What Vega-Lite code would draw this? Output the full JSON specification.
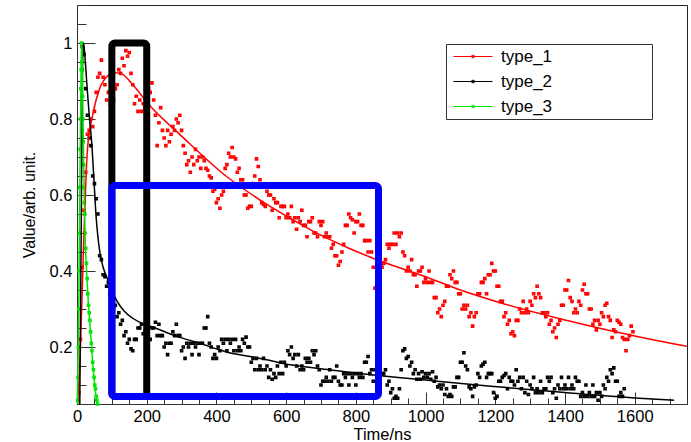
{
"$schema":"https://vega.github.io/schema/vega-lite/v6.json",
"width":610,"height":399,
"autosize":{"type":"none"},
"padding":{"left":77,"top":5,"right":4,"bottom":38},
"background":"white",
"config":{"view":{"stroke":"#222","strokeWidth":1},"font":"Liberation Sans"},
"datasets":{
"pts":[
{"x":5,"type_1":0.08},{"x":10,"type_1":0.22},
{"x":15,"type_1":0.41,"type_2":0.99},{"x":20,"type_1":0.56,"type_2":0.97},{"x":25,"type_1":0.66,"type_2":0.88},{"x":30,"type_1":0.76,"type_2":0.81},{"x":35,"type_1":0.77,"type_2":0.75},{"x":40,"type_1":0.80,"type_2":0.73},{"x":45,"type_1":0.78,"type_2":0.65},{"x":50,"type_1":0.82,"type_2":0.63},{"x":55,"type_1":0.87,"type_2":0.59},{"x":60,"type_1":0.91,"type_2":0.55},{"x":65,"type_1":0.92,"type_2":0.44},{"x":70,"type_1":0.955,"type_2":0.43},{"x":75,"type_1":0.91,"type_2":0.39},{"x":80,"type_1":0.89,"type_2":0.385},{"x":85,"type_1":0.85,"type_2":0.36},{"x":90,"type_1":0.87,"type_2":0.37},{"x":95,"type_1":0.84,"type_2":0.34},{"x":100,"type_1":0.88,"type_2":0.335},
{"x":105,"type_1":0.85,"type_2":0.30},{"x":110,"type_1":0.88,"type_2":0.31},{"x":115,"type_1":0.89,"type_2":0.28},{"x":120,"type_1":0.93,"type_2":0.29},{"x":125,"type_1":0.92,"type_2":0.26},{"x":130,"type_1":0.96,"type_2":0.27},{"x":135,"type_1":0.94,"type_2":0.23},{"x":140,"type_1":0.98,"type_2":0.24},{"x":145,"type_1":0.965,"type_2":0.21},{"x":150,"type_1":0.975,"type_2":0.22},{"x":155,"type_1":0.92,"type_2":0.195},{"x":160,"type_1":0.89,"type_2":0.19},{"x":165,"type_1":0.84,"type_2":0.22},{"x":170,"type_1":0.86,"type_2":0.22},{"x":175,"type_1":0.82,"type_2":0.25},{"x":180,"type_1":0.85,"type_2":0.25},{"x":185,"type_1":0.82,"type_2":0.26},{"x":190,"type_1":0.84,"type_2":0.235},{"x":195,"type_1":0.83,"type_2":0.24},{"x":200,"type_1":0.86,"type_2":0.21},
{"x":205,"type_1":0.88,"type_2":0.22},{"x":210,"type_1":0.87,"type_2":0.22},{"x":215,"type_1":0.895,"type_2":0.25},{"x":220,"type_1":0.85,"type_2":0.25},{"x":225,"type_1":0.81,"type_2":0.265},{"x":230,"type_1":0.73,"type_2":0.23},{"x":235,"type_1":0.79,"type_2":0.26},{"x":240,"type_1":0.83,"type_2":0.23},{"x":245,"type_1":0.77,"type_2":0.23},{"x":250,"type_1":0.75,"type_2":0.20},{"x":255,"type_1":0.73,"type_2":0.21},{"x":260,"type_1":0.77,"type_2":0.18},{"x":265,"type_1":0.74,"type_2":0.21},{"x":270,"type_1":0.76,"type_2":0.21},{"x":275,"type_1":0.78,"type_2":0.24},{"x":280,"type_1":0.77,"type_2":0.23},{"x":285,"type_1":0.80,"type_2":0.26},{"x":290,"type_1":0.79,"type_2":0.23},{"x":295,"type_1":0.81,"type_2":0.23},{"x":300,"type_1":0.77,"type_2":0.19},
{"x":305,"type_1":0.73,"type_2":0.20},{"x":310,"type_1":0.71,"type_2":0.17},{"x":315,"type_1":0.68,"type_2":0.21},{"x":320,"type_1":0.69,"type_2":0.20},{"x":325,"type_1":0.66,"type_2":0.21},{"x":330,"type_1":0.70,"type_2":0.18},{"x":335,"type_1":0.68,"type_2":0.21},{"x":340,"type_1":0.72,"type_2":0.20},{"x":345,"type_1":0.69,"type_2":0.21},{"x":350,"type_1":0.70,"type_2":0.18},{"x":355,"type_1":0.67,"type_2":0.21},{"x":360,"type_1":0.70,"type_2":0.21},{"x":365,"type_1":0.69,"type_2":0.25},{"x":370,"type_1":0.67,"type_2":0.25},{"x":375,"type_1":0.665,"type_2":0.28},{"x":380,"type_1":0.65,"type_2":0.21},{"x":385,"type_1":0.645,"type_2":0.20},{"x":390,"type_1":0.61,"type_2":0.17},{"x":395,"type_1":0.615,"type_2":0.18},{"x":400,"type_1":0.58,"type_2":0.17},
{"x":405,"type_1":0.59,"type_2":0.20},{"x":410,"type_1":0.565,"type_2":0.19},{"x":415,"type_1":0.60,"type_2":0.22},{"x":420,"type_1":0.61,"type_2":0.21},{"x":425,"type_1":0.67,"type_2":0.22},{"x":430,"type_1":0.68,"type_2":0.19},{"x":435,"type_1":0.71,"type_2":0.22},{"x":440,"type_1":0.70,"type_2":0.21},{"x":445,"type_1":0.725,"type_2":0.22},{"x":450,"type_1":0.70,"type_2":0.19},{"x":455,"type_1":0.695,"type_2":0.22},{"x":460,"type_1":0.66,"type_2":0.19},{"x":465,"type_1":0.67,"type_2":0.20},{"x":470,"type_1":0.64,"type_2":0.19},{"x":475,"type_1":0.64,"type_2":0.22},{"x":480,"type_1":0.60,"type_2":0.21},{"x":485,"type_1":0.60,"type_2":0.226},{"x":490,"type_1":0.565,"type_2":0.20},{"x":495,"type_1":0.57,"type_2":0.20},{"x":500,"type_1":0.57,"type_2":0.16},
{"x":505,"type_1":0.63,"type_2":0.17},{"x":510,"type_1":0.65,"type_2":0.14},{"x":515,"type_1":0.695,"type_2":0.17},{"x":520,"type_1":0.675,"type_2":0.14},{"x":525,"type_1":0.64,"type_2":0.15},{"x":530,"type_1":0.58,"type_2":0.14},{"x":535,"type_1":0.575,"type_2":0.17},{"x":540,"type_1":0.57,"type_2":0.14},{"x":545,"type_1":0.61,"type_2":0.15},{"x":550,"type_1":0.60,"type_2":0.12},{"x":555,"type_1":0.60,"type_2":0.14},{"x":560,"type_1":0.56,"type_2":0.115},{"x":565,"type_1":0.59,"type_2":0.13},{"x":570,"type_1":0.58,"type_2":0.12},{"x":575,"type_1":0.58,"type_2":0.15},{"x":580,"type_1":0.54,"type_2":0.13},{"x":585,"type_1":0.57,"type_2":0.16},{"x":590,"type_1":0.57,"type_2":0.13},{"x":595,"type_1":0.57,"type_2":0.16},{"x":600,"type_1":0.54,"type_2":0.15},
{"x":605,"type_1":0.55,"type_2":0.19},{"x":610,"type_1":0.54,"type_2":0.18},{"x":615,"type_1":0.57,"type_2":0.20},{"x":620,"type_1":0.53,"type_2":0.17},{"x":625,"type_1":0.54,"type_2":0.18},{"x":630,"type_1":0.51,"type_2":0.15},{"x":635,"type_1":0.54,"type_2":0.18},{"x":640,"type_1":0.53,"type_2":0.14},{"x":645,"type_1":0.56,"type_2":0.15},{"x":650,"type_1":0.52,"type_2":0.14},{"x":655,"type_1":0.52,"type_2":0.17},{"x":660,"type_1":0.49,"type_2":0.16},{"x":665,"type_1":0.53,"type_2":0.17},{"x":670,"type_1":0.53,"type_2":0.16},{"x":675,"type_1":0.54,"type_2":0.19},{"x":680,"type_1":0.50,"type_2":0.18},{"x":685,"type_1":0.50,"type_2":0.19},{"x":690,"type_1":0.49,"type_2":0.15},{"x":695,"type_1":0.53,"type_2":0.14},{"x":700,"type_1":0.52,"type_2":0.10},
{"x":705,"type_1":0.53,"type_2":0.11},{"x":710,"type_1":0.49,"type_2":0.11},{"x":715,"type_1":0.50,"type_2":0.12},{"x":720,"type_1":0.49,"type_2":0.11},{"x":725,"type_1":0.49,"type_2":0.14},{"x":730,"type_1":0.46,"type_2":0.11},{"x":735,"type_1":0.47,"type_2":0.12},{"x":740,"type_1":0.44,"type_2":0.12},{"x":745,"type_1":0.44,"type_2":0.15},{"x":750,"type_1":0.415,"type_2":0.11},{"x":755,"type_1":0.425,"type_2":0.10},{"x":760,"type_1":0.45,"type_2":0.10},{"x":765,"type_1":0.47,"type_2":0.13},{"x":770,"type_1":0.52,"type_2":0.12},{"x":775,"type_1":0.52,"type_2":0.13},{"x":780,"type_1":0.55,"type_2":0.10},{"x":785,"type_1":0.54,"type_2":0.13},{"x":790,"type_1":0.535,"type_2":0.12},{"x":795,"type_1":0.50,"type_2":0.13},{"x":800,"type_1":0.53,"type_2":0.10},
{"x":805,"type_1":0.53,"type_2":0.13},{"x":810,"type_1":0.55,"type_2":0.12},{"x":815,"type_1":0.52,"type_2":0.13},{"x":820,"type_1":0.52,"type_2":0.12},{"x":825,"type_1":0.48,"type_2":0.16},{"x":830,"type_1":0.48,"type_2":0.16},{"x":835,"type_1":0.45,"type_2":0.175},{"x":840,"type_1":0.48,"type_2":0.13},{"x":845,"type_1":0.45,"type_2":0.14},{"x":850,"type_1":0.41,"type_2":0.11},{"x":855,"type_1":0.355,"type_2":0.14},{"x":860,"type_1":0.39,"type_2":0.13},{"x":865,"type_1":0.41,"type_2":0.145},{"x":870,"type_1":0.45,"type_2":0.10},{"x":875,"type_1":0.41,"type_2":0.13},{"x":880,"type_1":0.42,"type_2":0.13},{"x":885,"type_1":0.43,"type_2":0.14},{"x":890,"type_1":0.47,"type_2":0.10},{"x":895,"type_1":0.46,"type_2":0.11},{"x":900,"type_1":0.47,"type_2":0.08},
{"x":905,"type_1":0.47,"type_2":0.09},{"x":910,"type_1":0.50,"type_2":0.065},{"x":915,"type_1":0.47,"type_2":0.07},{"x":920,"type_1":0.50,"type_2":0.065},{"x":925,"type_1":0.49,"type_2":0.09},{"x":930,"type_1":0.50,"type_2":0.14},{"x":935,"type_1":0.45,"type_2":0.19},{"x":940,"type_1":0.44,"type_2":0.195},{"x":945,"type_1":0.40,"type_2":0.17},{"x":950,"type_1":0.41,"type_2":0.175},{"x":955,"type_1":0.40,"type_2":0.15},{"x":960,"type_1":0.43,"type_2":0.16},{"x":965,"type_1":0.39,"type_2":0.13},{"x":970,"type_1":0.39,"type_2":0.14},{"x":975,"type_1":0.36,"type_2":0.115},{"x":980,"type_1":0.40,"type_2":0.13},{"x":985,"type_1":0.40,"type_2":0.115},{"x":990,"type_1":0.41,"type_2":0.135},{"x":995,"type_1":0.37,"type_2":0.12},{"x":1000,"type_1":0.38,"type_2":0.13},
{"x":1005,"type_1":0.37,"type_2":0.12},{"x":1010,"type_1":0.40,"type_2":0.13},{"x":1015,"type_1":0.37,"type_2":0.115},{"x":1020,"type_1":0.37,"type_2":0.135},{"x":1025,"type_1":0.33,"type_2":0.11},{"x":1030,"type_1":0.33,"type_2":0.12},{"x":1035,"type_1":0.29,"type_2":0.095},{"x":1040,"type_1":0.30,"type_2":0.10},{"x":1045,"type_1":0.28,"type_2":0.09},{"x":1050,"type_1":0.31,"type_2":0.10},{"x":1055,"type_1":0.32,"type_2":0.075},{"x":1060,"type_1":0.36,"type_2":0.09},{"x":1065,"type_1":0.36,"type_2":0.07},{"x":1070,"type_1":0.39,"type_2":0.075},{"x":1075,"type_1":0.38,"type_2":0.07},{"x":1080,"type_1":0.40,"type_2":0.095},{"x":1085,"type_1":0.37,"type_2":0.095},{"x":1090,"type_1":0.37,"type_2":0.12},{"x":1095,"type_1":0.34,"type_2":0.12},{"x":1100,"type_1":0.34,"type_2":0.16},
{"x":1105,"type_1":0.30,"type_2":0.16},{"x":1110,"type_1":0.31,"type_2":0.185},{"x":1115,"type_1":0.30,"type_2":0.15},{"x":1120,"type_1":0.31,"type_2":0.14},{"x":1125,"type_1":0.28,"type_2":0.095},{"x":1130,"type_1":0.29,"type_2":0.09},{"x":1135,"type_1":0.255,"type_2":0.07},{"x":1140,"type_1":0.28,"type_2":0.095},{"x":1145,"type_1":0.29,"type_2":0.10},{"x":1150,"type_1":0.34,"type_2":0.13},{"x":1155,"type_1":0.34,"type_2":0.12},{"x":1160,"type_1":0.37,"type_2":0.15},{"x":1165,"type_1":0.37,"type_2":0.155},{"x":1170,"type_1":0.38,"type_2":0.16},{"x":1175,"type_1":0.34,"type_2":0.12},{"x":1180,"type_1":0.39,"type_2":0.13},{"x":1185,"type_1":0.39,"type_2":0.13},{"x":1190,"type_1":0.42,"type_2":0.13},{"x":1195,"type_1":0.40,"type_2":0.08},{"x":1200,"type_1":0.40,"type_2":0.065},
{"x":1205,"type_1":0.36,"type_2":0.07},{"x":1210,"type_1":0.36,"type_2":0.11},{"x":1215,"type_1":0.32,"type_2":0.11},{"x":1220,"type_1":0.32,"type_2":0.12},{"x":1225,"type_1":0.28,"type_2":0.125},{"x":1230,"type_1":0.29,"type_2":0.13},{"x":1235,"type_1":0.26,"type_2":0.09},{"x":1240,"type_1":0.27,"type_2":0.12},{"x":1245,"type_1":0.235,"type_2":0.11},{"x":1250,"type_1":0.24,"type_2":0.11},{"x":1255,"type_1":0.23,"type_2":0.10},{"x":1260,"type_1":0.27,"type_2":0.14},{"x":1265,"type_1":0.27,"type_2":0.11},{"x":1270,"type_1":0.30,"type_2":0.12},{"x":1275,"type_1":0.29,"type_2":0.09},{"x":1280,"type_1":0.32,"type_2":0.12},{"x":1285,"type_1":0.29,"type_2":0.08},{"x":1290,"type_1":0.30,"type_2":0.11},{"x":1295,"type_1":0.29,"type_2":0.075},{"x":1300,"type_1":0.32,"type_2":0.10},
{"x":1305,"type_1":0.31,"type_2":0.09},{"x":1310,"type_1":0.34,"type_2":0.12},{"x":1315,"type_1":0.33,"type_2":0.08},{"x":1320,"type_1":0.36,"type_2":0.09},{"x":1325,"type_1":0.34,"type_2":0.08},{"x":1330,"type_1":0.33,"type_2":0.11},{"x":1335,"type_1":0.29,"type_2":0.08},{"x":1340,"type_1":0.29,"type_2":0.09},{"x":1345,"type_1":0.28,"type_2":0.09},{"x":1350,"type_1":0.29,"type_2":0.12},{"x":1355,"type_1":0.26,"type_2":0.11},{"x":1360,"type_1":0.27,"type_2":0.12},{"x":1365,"type_1":0.24,"type_2":0.08},{"x":1370,"type_1":0.25,"type_2":0.09},{"x":1375,"type_1":0.225,"type_2":0.065},{"x":1380,"type_1":0.26,"type_2":0.10},{"x":1385,"type_1":0.27,"type_2":0.09},{"x":1390,"type_1":0.31,"type_2":0.12},{"x":1395,"type_1":0.31,"type_2":0.09},{"x":1400,"type_1":0.35,"type_2":0.10},
{"x":1405,"type_1":0.35,"type_2":0.09},{"x":1410,"type_1":0.375,"type_2":0.12},{"x":1415,"type_1":0.33,"type_2":0.09},{"x":1420,"type_1":0.32,"type_2":0.10},{"x":1425,"type_1":0.29,"type_2":0.09},{"x":1430,"type_1":0.30,"type_2":0.12},{"x":1435,"type_1":0.29,"type_2":0.11},{"x":1440,"type_1":0.32,"type_2":0.11},{"x":1445,"type_1":0.31,"type_2":0.07},{"x":1450,"type_1":0.35,"type_2":0.08},{"x":1455,"type_1":0.365,"type_2":0.07},{"x":1460,"type_1":0.34,"type_2":0.10},{"x":1465,"type_1":0.34,"type_2":0.07},{"x":1470,"type_1":0.30,"type_2":0.08},{"x":1475,"type_1":0.30,"type_2":0.07},{"x":1480,"type_1":0.26,"type_2":0.10},{"x":1485,"type_1":0.27,"type_2":0.07},{"x":1490,"type_1":0.245,"type_2":0.08},{"x":1495,"type_1":0.27,"type_2":0.06},{"x":1500,"type_1":0.26,"type_2":0.08},
{"x":1505,"type_1":0.29,"type_2":0.07},{"x":1510,"type_1":0.28,"type_2":0.10},{"x":1515,"type_1":0.31,"type_2":0.09},{"x":1520,"type_1":0.315,"type_2":0.12},{"x":1525,"type_1":0.28,"type_2":0.11},{"x":1530,"type_1":0.27,"type_2":0.14},{"x":1535,"type_1":0.225,"type_2":0.13},{"x":1540,"type_1":0.245,"type_2":0.145},{"x":1545,"type_1":0.24,"type_2":0.11},{"x":1550,"type_1":0.27,"type_2":0.11},{"x":1555,"type_1":0.265,"type_2":0.07},{"x":1560,"type_1":0.26,"type_2":0.08},{"x":1565,"type_1":0.225,"type_2":0.07},{"x":1570,"type_1":0.22,"type_2":0.09},{"x":1575,"type_1":0.19},{"x":1580,"type_1":0.22},{"x":1585,"type_1":0.23},{"x":1590,"type_1":0.255},{"x":1595,"type_1":0.24},
{"x":2,"type_3":0.06},{"x":3,"type_3":0.12},{"x":4,"type_3":0.2},{"x":5,"type_3":0.3},{"x":6,"type_3":0.4},{"x":7,"type_3":0.5},{"x":8,"type_3":0.62},{"x":9,"type_3":0.72},{"x":10,"type_3":0.8},{"x":11,"type_3":0.88},{"x":12,"type_3":0.93},{"x":13,"type_3":1.0},{"x":14,"type_3":0.95},{"x":15,"type_3":0.93},{"x":16,"type_3":0.86},{"x":17,"type_3":0.8},{"x":18,"type_3":0.74},{"x":19,"type_3":0.68},{"x":20,"type_3":0.62},{"x":21,"type_3":0.58},{"x":22,"type_3":0.55},{"x":23,"type_3":0.5},{"x":25,"type_3":0.46},{"x":27,"type_3":0.42},{"x":29,"type_3":0.38},{"x":31,"type_3":0.34},{"x":33,"type_3":0.31},{"x":35,"type_3":0.29},{"x":37,"type_3":0.27},{"x":39,"type_3":0.24},{"x":41,"type_3":0.21},{"x":43,"type_3":0.19},{"x":45,"type_3":0.16},{"x":47,"type_3":0.14},{"x":49,"type_3":0.12},{"x":51,"type_3":0.1},{"x":53,"type_3":0.09},{"x":55,"type_3":0.07},{"x":57,"type_3":0.06},{"x":59,"type_3":0.05}
],
"fits":[
{"s":"type_1","x":2,"y":0.05},{"s":"type_1","x":10,"y":0.2},{"s":"type_1","x":20,"y":0.5},{"s":"type_1","x":30,"y":0.72},{"s":"type_1","x":45,"y":0.81},{"s":"type_1","x":65,"y":0.88},{"s":"type_1","x":90,"y":0.915},{"s":"type_1","x":110,"y":0.922},{"s":"type_1","x":130,"y":0.918},{"s":"type_1","x":160,"y":0.89},{"s":"type_1","x":210,"y":0.834},{"s":"type_1","x":300,"y":0.755},{"s":"type_1","x":430,"y":0.648},{"s":"type_1","x":520,"y":0.59},{"s":"type_1","x":621,"y":0.534},{"s":"type_1","x":698,"y":0.495},{"s":"type_1","x":775,"y":0.462},{"s":"type_1","x":851,"y":0.433},{"s":"type_1","x":1000,"y":0.385},{"s":"type_1","x":1100,"y":0.35},{"s":"type_1","x":1216,"y":0.316},{"s":"type_1","x":1400,"y":0.271},{"s":"type_1","x":1600,"y":0.229},{"s":"type_1","x":1750,"y":0.202},
{"s":"type_2","x":8,"y":0.05},{"s":"type_2","x":12,"y":0.5},{"s":"type_2","x":16,"y":0.95},{"s":"type_2","x":19,"y":1.0},{"s":"type_2","x":23,"y":0.96},{"s":"type_2","x":30,"y":0.87},{"s":"type_2","x":36,"y":0.8},{"s":"type_2","x":42,"y":0.74},{"s":"type_2","x":48,"y":0.65},{"s":"type_2","x":55,"y":0.54},{"s":"type_2","x":60,"y":0.49},{"s":"type_2","x":66,"y":0.447},{"s":"type_2","x":75,"y":0.41},{"s":"type_2","x":85,"y":0.385},{"s":"type_2","x":100,"y":0.35},{"s":"type_2","x":114,"y":0.322},{"s":"type_2","x":135,"y":0.295},{"s":"type_2","x":161,"y":0.275},{"s":"type_2","x":190,"y":0.261},{"s":"type_2","x":219,"y":0.252},{"s":"type_2","x":260,"y":0.237},{"s":"type_2","x":300,"y":0.224},{"s":"type_2","x":353,"y":0.21},{"s":"type_2","x":400,"y":0.195},{"s":"type_2","x":440,"y":0.184},{"s":"type_2","x":497,"y":0.175},{"s":"type_2","x":560,"y":0.163},{"s":"type_2","x":612,"y":0.153},{"s":"type_2","x":700,"y":0.143},{"s":"type_2","x":851,"y":0.126},{"s":"type_2","x":1000,"y":0.113},{"s":"type_2","x":1187,"y":0.097},{"s":"type_2","x":1400,"y":0.08},{"s":"type_2","x":1600,"y":0.066},{"s":"type_2","x":1713,"y":0.06},
{"s":"type_3","x":1,"y":0.05},{"s":"type_3","x":5,"y":0.3},{"s":"type_3","x":9,"y":0.7},{"s":"type_3","x":12,"y":0.95},{"s":"type_3","x":13.5,"y":1.0},{"s":"type_3","x":15,"y":0.95},{"s":"type_3","x":18,"y":0.75},{"s":"type_3","x":21,"y":0.58},{"s":"type_3","x":24,"y":0.47},{"s":"type_3","x":28,"y":0.39},{"s":"type_3","x":33,"y":0.31},{"s":"type_3","x":38,"y":0.25},{"s":"type_3","x":45,"y":0.16},{"s":"type_3","x":52,"y":0.09},{"s":"type_3","x":58,"y":0.05}
],
"box1":[{"x":100,"x2":200,"y":0.07,"y2":1.0}],
"box2":[{"x":100,"x2":865,"y":0.07,"y2":0.625}]
},
"layer":[
{"data":{"name":"pts"},
"transform":[{"fold":["type_1","type_2","type_3"],"as":["s","y"]},{"filter":"isValid(datum.y)"}],
"mark":{"type":"point","shape":"square","filled":false,"size":4,"strokeWidth":1.6,"opacity":1},
"encoding":{
"x":{"field":"x","type":"quantitative","scale":{"domain":[0,1750],"nice":false,"zero":false},
"axis":{"orient":"bottom","values":[0,200,400,600,800,1000,1200,1400,1600],"format":"d","grid":false,"tickSize":-12,"tickColor":"#333","domainColor":"#333","labelFontSize":16.5,"labelColor":"#000","labelPadding":16,"labelFlush":false,"title":"Time/ns","titleFontSize":16.5,"titleFontWeight":"normal","titleColor":"#000","titlePadding":2}},
"y":{"field":"y","type":"quantitative","scale":{"domain":[0.05,1.1],"nice":false,"zero":false},
"axis":{"orient":"left","values":[0.2,0.4,0.6,0.8,1],"format":"~g","grid":false,"tickSize":-18,"tickColor":"#333","domainColor":"#333","labelFontSize":16.5,"labelColor":"#000","labelPadding":23,"labelFlush":false,"title":"Value/arb. unit.","titleFontSize":16,"titleFontWeight":"normal","titleColor":"#000","titlePadding":12}},
"color":{"field":"s","type":"nominal","scale":{"domain":["type_1","type_2","type_3"],"range":["#ff0000","#000000","#00e600"]},
"legend":{"orient":"none","legendX":369,"legendY":39,"direction":"vertical","strokeColor":"#333","fillColor":"white","padding":0,"symbolOffset":7,"labelOffset":8,"symbolType":"M-1,0H1M-0.06,-0.06H0.06V0.06H-0.06Z","symbolSize":1521,"symbolStrokeWidth":1,"labelFontSize":17,"labelColor":"#000","clipHeight":25,"rowPadding":0,"title":" ","titleOrient":"right","titlePadding":100}}
}},
{"data":{"name":"fits"},
"mark":{"type":"line","strokeWidth":1.5,"interpolate":"monotone"},
"encoding":{
"x":{"field":"x","type":"quantitative","axis":{"orient":"bottom","values":[0,50,100,150,200,250,300,350,400,450,500,550,600,650,700,750,800,850,900,950,1000,1050,1100,1150,1200,1250,1300,1350,1400,1450,1500,1550,1600,1650,1700,1750],"labels":false,"domain":false,"grid":false,"tickSize":-6,"tickColor":"#333","title":null}},
"y":{"field":"y","type":"quantitative","axis":{"orient":"left","values":[0.05,0.1,0.15,0.2,0.25,0.3,0.35,0.4,0.45,0.5,0.55,0.6,0.65,0.7,0.75,0.8,0.85,0.9,0.95,1,1.05,1.1],"labels":false,"domain":false,"grid":false,"tickSize":-9,"tickColor":"#333","title":null}},
"color":{"field":"s","type":"nominal"},
"detail":{"field":"s"}
}},
{"data":{"name":"box1"},
"mark":{"type":"rect","filled":false,"stroke":"#000000","strokeWidth":7,"strokeJoin":"round","cornerRadius":3},
"encoding":{"x":{"field":"x","type":"quantitative","axis":null},"x2":{"field":"x2"},"y":{"field":"y","type":"quantitative","axis":null},"y2":{"field":"y2"}}},
{"data":{"name":"box2"},
"mark":{"type":"rect","filled":false,"stroke":"#0000ff","strokeWidth":7,"strokeJoin":"round","cornerRadius":3},
"encoding":{"x":{"field":"x","type":"quantitative","axis":null},"x2":{"field":"x2"},"y":{"field":"y","type":"quantitative","axis":null},"y2":{"field":"y2"}}}
],
"resolve":{"axis":{"x":"independent","y":"independent"}}
}
